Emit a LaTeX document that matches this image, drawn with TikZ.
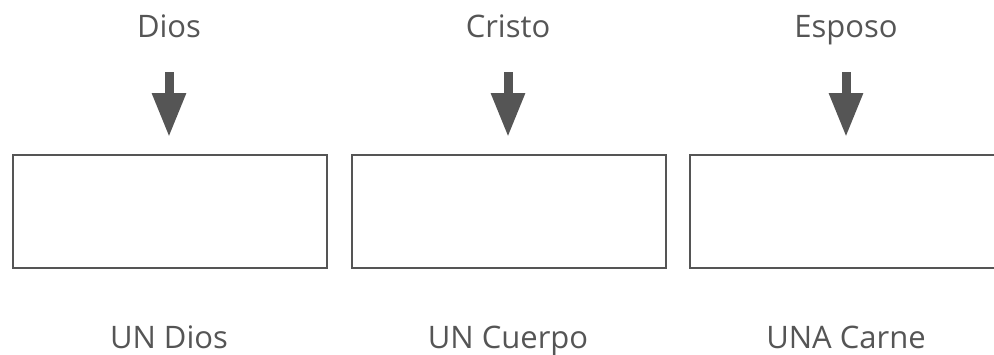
\documentclass[tikz,border=0pt]{standalone}
\usepackage{fontspec}
\setmainfont{Open Sans}
\usetikzlibrary{arrows.meta}
\definecolor{ink}{HTML}{555555}
\tikzset{
  boxst/.style={draw=ink, line width=2.2pt, minimum width=314pt, minimum height=113pt, inner sep=0pt, anchor=north west},
  lbl/.style={text=ink, font=\fontsize{31}{36}\selectfont, inner sep=0pt, anchor=base},
  arr/.style={draw=ink, line width=9pt, -{Triangle[width=32pt,length=44pt]}}
}
\begin{document}
\begin{tikzpicture}[x=1pt,y=-1pt]
\useasboundingbox (0,0) rectangle (994,354);
\begin{scope}
\clip (0,0) rectangle (994,354);
\node[boxst] (b1) at (12,154) {};
\node[boxst] (b2) at (351,154) {};
\node[boxst, minimum width=340pt] (b3) at (689,154) {};
\end{scope}
\node[lbl] (t1) at (169,37) {Dios};
\node[lbl] (t2) at (508,37) {Cristo};
\node[lbl] (t3) at (846,37) {Esposo};
\node[lbl] (u1) at (169,348) {UN Dios};
\node[lbl] (u2) at (508,348) {UN Cuerpo};
\node[lbl] (u3) at (846,348) {UNA Carne};
\coordinate (s1) at (169,72); \coordinate (e1) at (169,137);
\coordinate (s2) at (508,72); \coordinate (e2) at (508,137);
\coordinate (s3) at (846,72); \coordinate (e3) at (846,137);
\draw[arr] (s1) -- (e1);
\draw[arr] (s2) -- (e2);
\draw[arr] (s3) -- (e3);
\end{tikzpicture}
\end{document}
